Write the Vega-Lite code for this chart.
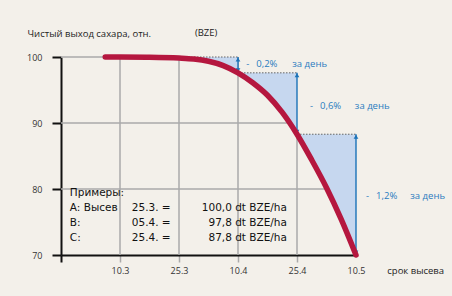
{
  "$schema": "https://vega.github.io/schema/vega-lite/v6.json",
  "width": 295,
  "height": 198,
  "autosize": "none",
  "padding": {"left": 61, "top": 57, "right": 96, "bottom": 41},
  "background": "#f3f0ea",
  "config": {"view": {"stroke": null}, "font": "Open Sans"},
  "datasets": {
    "curve": [
      {"x": 0.75, "y": 100}, {"x": 1, "y": 100}, {"x": 1.5, "y": 99.97}, {"x": 2, "y": 99.85},
      {"x": 2.25, "y": 99.7}, {"x": 2.5, "y": 99.35}, {"x": 2.75, "y": 98.7}, {"x": 3, "y": 97.6},
      {"x": 3.25, "y": 96.1}, {"x": 3.5, "y": 94.2}, {"x": 3.75, "y": 91.6}, {"x": 4, "y": 88.3},
      {"x": 4.25, "y": 84.4}, {"x": 4.5, "y": 80.2}, {"x": 4.75, "y": 75.4}, {"x": 5, "y": 70}
    ],
    "shade": [
      {"tri": "A", "x": 2, "y": 99.85, "top": 100}, {"tri": "A", "x": 2.25, "y": 99.7, "top": 100},
      {"tri": "A", "x": 2.5, "y": 99.35, "top": 100}, {"tri": "A", "x": 2.75, "y": 98.7, "top": 100},
      {"tri": "A", "x": 3, "y": 97.6, "top": 100},
      {"tri": "B", "x": 3, "y": 97.6, "top": 97.6}, {"tri": "B", "x": 3.25, "y": 96.1, "top": 97.6},
      {"tri": "B", "x": 3.5, "y": 94.2, "top": 97.6}, {"tri": "B", "x": 3.75, "y": 91.6, "top": 97.6},
      {"tri": "B", "x": 4, "y": 88.3, "top": 97.6},
      {"tri": "C", "x": 4, "y": 88.3, "top": 88.3}, {"tri": "C", "x": 4.25, "y": 84.4, "top": 88.3},
      {"tri": "C", "x": 4.5, "y": 80.2, "top": 88.3}, {"tri": "C", "x": 4.75, "y": 75.4, "top": 88.3},
      {"tri": "C", "x": 5, "y": 70, "top": 88.3}
    ],
    "grid": [
      {"x": 0, "x2": 2, "y": 100, "y2": 100}, {"x": 0, "x2": 4, "y": 90, "y2": 90},
      {"x": 0, "x2": 5, "y": 80, "y2": 80},
      {"x": 1, "x2": 1, "y": 70, "y2": 100}, {"x": 2, "x2": 2, "y": 70, "y2": 100},
      {"x": 3, "x2": 3, "y": 70, "y2": 100}, {"x": 4, "x2": 4, "y": 70, "y2": 88.3}
    ],
    "tops": [
      {"x": 2, "x2": 3, "y": 100}, {"x": 3, "x2": 4, "y": 97.6}, {"x": 4, "x2": 5, "y": 88.3}
    ],
    "arrows": [
      {"x": 3, "y": 100, "y2": 97.6}, {"x": 4, "y": 97.6, "y2": 88.3}, {"x": 5, "y": 88.3, "y2": 70}
    ],
    "headsUp": [
      {"x": 3, "y": 100}, {"x": 4, "y": 97.6}, {"x": 5, "y": 88.3}
    ],
    "headsDown": [
      {"x": 3, "y": 97.6}, {"x": 4, "y": 88.3}, {"x": 5, "y": 70}
    ],
    "notes": [
      {"x": 2.27, "y": 103.6, "label": "(BZE)"},
      {"x": 5.53, "y": 67.6, "label": "срок высева"}
    ],
    "blue": [
      {"x": 3.14, "y": 98.94, "label": "-"}, {"x": 3.31, "y": 98.94, "label": "0,2%"}, {"x": 3.92, "y": 98.94, "label": "за день"},
      {"x": 4.22, "y": 92.58, "label": "-"}, {"x": 4.39, "y": 92.58, "label": "0,6%"}, {"x": 4.98, "y": 92.58, "label": "за день"},
      {"x": 5.17, "y": 78.94, "label": "-"}, {"x": 5.34, "y": 78.94, "label": "1,2%"}, {"x": 5.92, "y": 78.94, "label": "за день"}
    ],
    "legendL": [
      {"x": 0.15, "y": 79.35, "label": "Примеры:"},
      {"x": 0.15, "y": 77.08, "label": "A: Высев"},
      {"x": 0.15, "y": 74.8, "label": "B:"},
      {"x": 0.15, "y": 72.53, "label": "C:"},
      {"x": 1.2, "y": 77.08, "label": "25.3. ="},
      {"x": 1.2, "y": 74.8, "label": "05.4. ="},
      {"x": 1.2, "y": 72.53, "label": "25.4. ="}
    ],
    "legendR": [
      {"x": 3.83, "y": 77.08, "label": "100,0 dt BZE/ha"},
      {"x": 3.83, "y": 74.8, "label": "97,8 dt BZE/ha"},
      {"x": 3.83, "y": 72.53, "label": "87,8 dt BZE/ha"}
    ]
  },
  "encoding": {
    "x": {
      "field": "x", "type": "quantitative",
      "scale": {"domain": [0, 5], "nice": false, "zero": false},
      "axis": {
        "values": [0, 1, 2, 3, 4, 5],
        "labelExpr": "datum.value==1?'10.3':datum.value==2?'25.3':datum.value==3?'10.4':datum.value==4?'25.4':datum.value==5?'10.5':''",
        "title": null, "grid": false, "labelFlush": false,
        "domainColor": "#111", "domainWidth": 2,
        "tickSize": 7,
        "tickWidth": {"condition": {"test": "datum.value==0", "value": 2}, "value": 1.5},
        "tickColor": {"condition": {"test": "datum.value==0", "value": "#111"}, "value": "#aaaaaa"},
        "tickOpacity": {"condition": {"test": "datum.value==5", "value": 0}, "value": 1},
        "labelFont": "Open Sans", "labelFontSize": 9, "labelColor": "#333", "labelPadding": 4
      }
    },
    "y": {
      "field": "y", "type": "quantitative",
      "scale": {"domain": [70, 100], "nice": false, "zero": false},
      "axis": {
        "values": [70, 80, 90, 100],
        "title": "Чистый выход сахара, отн.",
        "titleAngle": 0, "titleX": -34, "titleY": -24, "titleAlign": "left", "titleBaseline": "middle",
        "titleFontWeight": "normal", "titleFontSize": 9.5, "titleColor": "#222", "titleFont": "Open Sans",
        "grid": false, "domainColor": "#111", "domainWidth": 2,
        "tickColor": "#111", "tickWidth": 2, "tickSize": 9,
        "labelPadding": 10, "labelFont": "Open Sans", "labelFontSize": 9, "labelColor": "#333"
      }
    }
  },
  "layer": [
    {
      "data": {"name": "grid"},
      "mark": {"type": "rule", "color": "#aaaaaa", "strokeWidth": 1.5},
      "encoding": {"x2": {"field": "x2"}, "y2": {"field": "y2"}}
    },
    {
      "data": {"name": "shade"},
      "mark": {"type": "area", "color": "#c6d7ef", "opacity": 1, "interpolate": "monotone"},
      "encoding": {"y2": {"field": "top"}, "detail": {"field": "tri"}}
    },
    {
      "data": {"name": "tops"},
      "mark": {"type": "rule", "color": "#666666", "strokeWidth": 1, "strokeDash": [1.5, 1.5]},
      "encoding": {"x2": {"field": "x2"}}
    },
    {
      "data": {"name": "arrows"},
      "mark": {"type": "rule", "color": "#1b72b8", "strokeWidth": 1.4},
      "encoding": {"y2": {"field": "y2"}}
    },
    {
      "data": {"name": "headsUp"},
      "mark": {"type": "point", "shape": "triangle-up", "filled": true, "color": "#1b72b8", "opacity": 1, "size": 22, "yOffset": 2.5},
      "encoding": {}
    },
    {
      "data": {"name": "headsDown"},
      "mark": {"type": "point", "shape": "triangle-down", "filled": true, "color": "#1b72b8", "opacity": 1, "size": 22, "yOffset": -2.5},
      "encoding": {}
    },
    {
      "data": {"name": "curve"},
      "mark": {"type": "line", "color": "#b5173f", "strokeWidth": 5.5, "strokeCap": "round", "interpolate": "monotone"},
      "encoding": {}
    },
    {
      "data": {"name": "notes"},
      "mark": {"type": "text", "align": "left", "baseline": "middle", "font": "Open Sans", "fontSize": 9.5, "color": "#222"},
      "encoding": {"text": {"field": "label"}}
    },
    {
      "data": {"name": "blue"},
      "mark": {"type": "text", "align": "left", "baseline": "middle", "font": "Open Sans", "fontSize": 9.5, "color": "#2a7cc0"},
      "encoding": {"text": {"field": "label"}}
    },
    {
      "data": {"name": "legendL"},
      "mark": {"type": "text", "align": "left", "baseline": "middle", "font": "DejaVu Sans", "fontSize": 10.5, "color": "#111"},
      "encoding": {"text": {"field": "label"}}
    },
    {
      "data": {"name": "legendR"},
      "mark": {"type": "text", "align": "right", "baseline": "middle", "font": "DejaVu Sans", "fontSize": 10.5, "color": "#111"},
      "encoding": {"text": {"field": "label"}}
    }
  ]
}
